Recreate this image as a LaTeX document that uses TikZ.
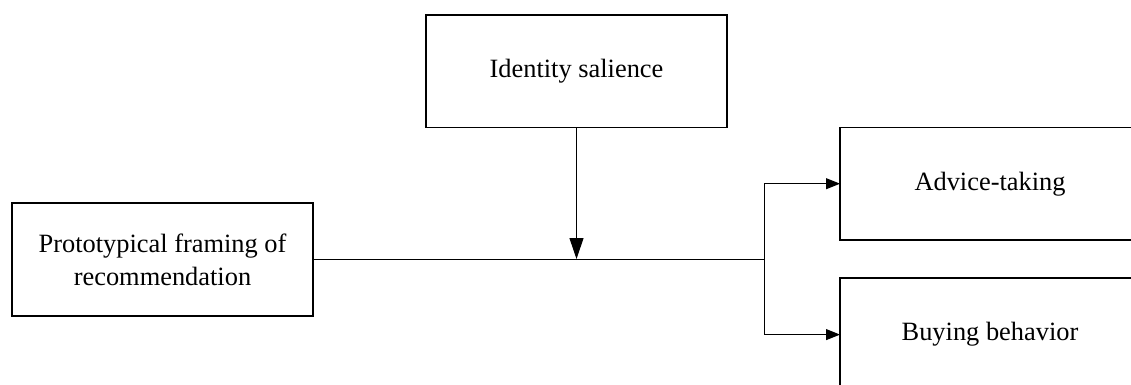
\documentclass[tikz,border=0pt]{standalone}
\usepackage{fontspec}
\setmainfont{Liberation Serif}
\usetikzlibrary{arrows.meta}
\begin{document}
\begin{tikzpicture}[x=1pt,y=-1pt,
  boxnode/.style={draw, line width=1.8pt, minimum width=301.6pt, minimum height=112.5pt,
    inner sep=0pt, outer sep=0pt, align=center, font=\fontsize{26.4}{33}\selectfont},
  conn/.style={line width=1pt},
  bigtip/.style={-{Triangle[length=21pt,width=14pt]}},
  smalltip/.style={-{Triangle[length=14pt,width=11pt]}}]
\useasboundingbox (0,0) rectangle (1131,385);
\clip (0,0) rectangle (1131,385);
\node[boxnode] (id) at (576.5,71.2) {Identity salience};
\node[boxnode] (pf) at (162.5,259.5) {Prototypical framing of\\recommendation};
\node[boxnode, minimum width=300pt] (adv) at (990,183.7) {Advice-taking};
\node[boxnode, minimum width=300pt] (buy) at (990,334.6) {Buying behavior};
\coordinate (split) at (764.3,259);
\coordinate (mod) at (576.5,259);
\draw[conn] (pf.east |- split) -- (split);
\draw[conn, bigtip] (id.south) -- (mod);
\draw[conn, smalltip] (split) |- (adv.west);
\draw[conn, smalltip] (split) |- (buy.west);
\end{tikzpicture}
\end{document}
